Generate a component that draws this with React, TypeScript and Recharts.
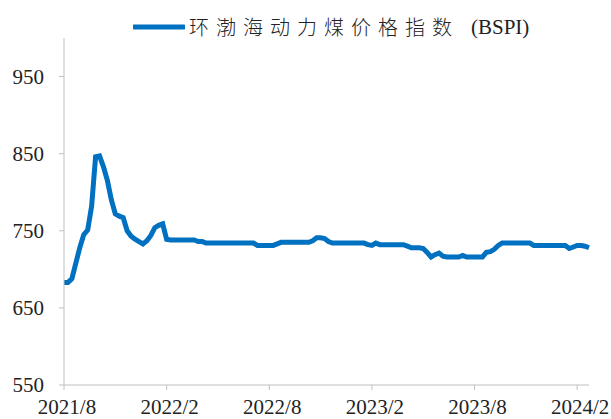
import { LineChart, Line, XAxis, YAxis } from 'recharts';

const seriesName = '环渤海动力煤价格指数';

// weekly BSPI, yuan/ton, starting first week of 2021/8
const bspi = [
  683, 683, 688, 708, 728, 745, 751, 782, 846, 847,
  833, 815, 790, 772, 769, 767, 750, 743, 739, 736,
  733, 737, 744, 754, 757, 759, 739, 738, 738, 738,
  738, 738, 738, 738, 736, 736, 734, 734, 734, 734,
  734, 734, 734, 734, 734, 734, 734, 734, 734, 731,
  731, 731, 731, 731, 733, 735, 735, 735, 735, 735,
  735, 735, 735, 737, 741, 741, 740, 736, 734, 734,
  734, 734, 734, 734, 734, 734, 734, 732, 731, 734,
  732, 732, 732, 732, 732, 732, 732, 730, 728, 728,
  728, 727, 722, 716, 719, 721, 717, 716, 716, 716,
  716, 718, 716, 716, 716, 716, 716, 722, 723, 726,
  731, 734, 734, 734, 734, 734, 734, 734, 734, 731,
  731, 731, 731, 731, 731, 731, 731, 731, 727, 729,
  731, 731, 730, 728,
];

const tickWeeks = [0, 26, 52, 78, 104, 130];
const tickLabels = ['2021/8', '2022/2', '2022/8', '2023/2', '2023/8', '2024/2'];
const yTicks = [550, 650, 750, 850, 950];

const data = bspi.map((v, i) => ({ week: i, value: v }));

const serif = '"Liberation Serif", "Times New Roman", serif';
const lineColor = '#0070C0';
const axisColor = '#BFBFBF';

function LegendBox() {
  return (
    <div
      style={{
        position: 'absolute',
        top: 14,
        left: 133,
        display: 'flex',
        alignItems: 'center',
        whiteSpace: 'nowrap',
        lineHeight: '26px',
      }}
    >
      <svg width={52} height={10} style={{ marginRight: 4 }}>
        <line x1={1} y1={5} x2={51} y2={5} stroke={lineColor} strokeWidth={5} strokeLinecap="round" />
      </svg>
      <span
        style={{
          fontFamily: '"Noto Sans CJK SC", sans-serif',
          fontSize: 20,
          fontWeight: 300,
          letterSpacing: 7,
          color: '#222',
        }}
      >
        {seriesName}
      </span>
      <span style={{ fontFamily: serif, fontSize: 21, color: '#222', marginLeft: 12 }}>(BSPI)</span>
    </div>
  );
}

export default function App() {
  return (
    <div style={{ position: 'relative', width: 611, height: 419, fontFamily: serif }}>
      <style>{`body{margin:0} .recharts-cartesian-axis-tick-value{font-family:${serif}}`}</style>
      <LineChart
        width={611}
        height={419}
        data={data}
        margin={{ top: 38, right: 22, bottom: 0, left: 0 }}
        style={{ fontFamily: serif }}
      >
        <XAxis
          dataKey="week"
          type="number"
          domain={[0, bspi.length - 1]}
          ticks={tickWeeks}
          tickFormatter={(w: number) => tickLabels[tickWeeks.indexOf(w)] ?? ''}
          height={34}
          tickSize={5}
          tickMargin={9}
          stroke={axisColor}
          tick={{ fill: '#222', fontSize: 21, fontFamily: serif, dx: 3 }}
        />
        <YAxis
          domain={[550, 1000]}
          ticks={yTicks}
          width={64}
          tickSize={5}
          tickMargin={15}
          stroke={axisColor}
          tick={{ fill: '#222', fontSize: 21, fontFamily: serif }}
          interval={0}
        />
        <Line
          type="linear"
          dataKey="value"
          name={seriesName}
          stroke={lineColor}
          strokeWidth={5}
          dot={false}
          isAnimationActive={false}
        />
      </LineChart>
      <LegendBox />
    </div>
  );
}
